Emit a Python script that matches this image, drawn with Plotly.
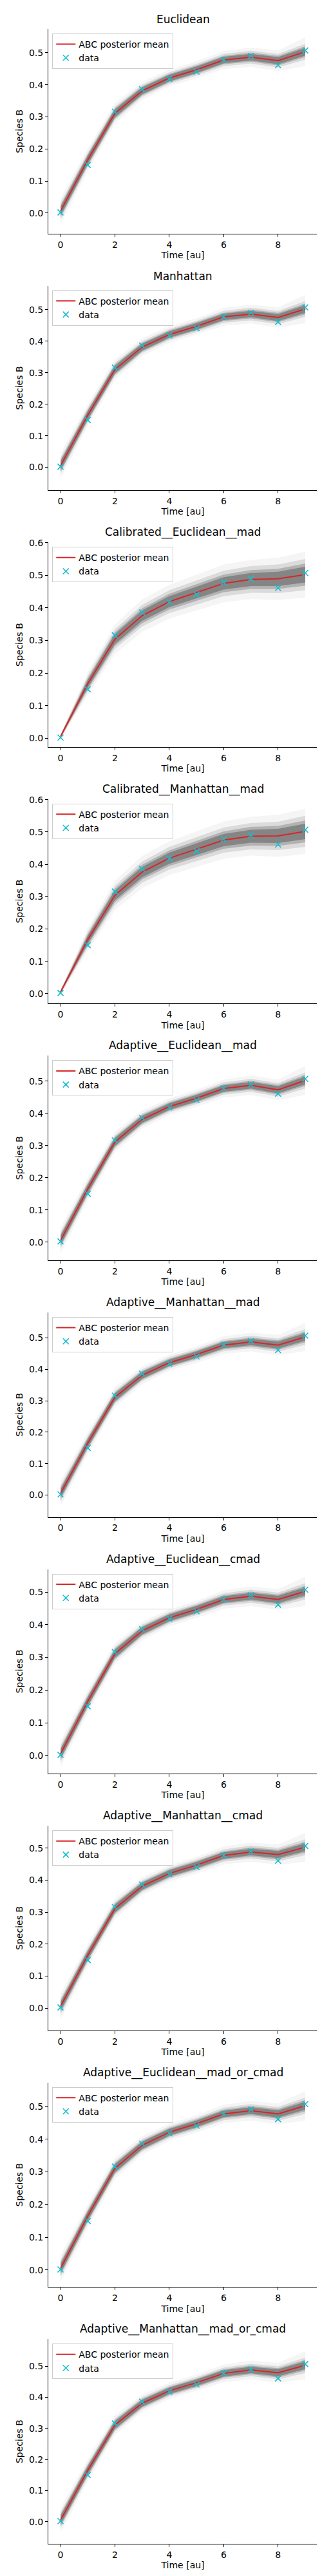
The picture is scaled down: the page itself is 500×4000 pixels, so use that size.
import plotly.graph_objects as go
from plotly.subplots import make_subplots

# time points and observed data (same for every distance)
time_au = [0, 1, 2, 3, 4, 5, 6, 7, 8, 9]
data_b = [0.002, 0.150, 0.316, 0.386, 0.418, 0.441, 0.478, 0.490, 0.461, 0.507]

titles = ["Euclidean", "Manhattan", "Calibrated__Euclidean__mad",
          "Calibrated__Manhattan__mad", "Adaptive__Euclidean__mad",
          "Adaptive__Manhattan__mad", "Adaptive__Euclidean__cmad",
          "Adaptive__Manhattan__cmad", "Adaptive__Euclidean__mad_or_cmad",
          "Adaptive__Manhattan__mad_or_cmad"]

# ABC posterior mean per distance
m_euclidean = [0.006, 0.166, 0.311, 0.381, 0.421, 0.447, 0.477, 0.486, 0.475, 0.503]
m_manhattan = [0.005, 0.165, 0.310, 0.381, 0.421, 0.447, 0.477, 0.486, 0.475, 0.502]
m_cal_euc = [0.005, 0.167, 0.304, 0.376, 0.419, 0.447, 0.475, 0.487, 0.489, 0.502]
m_cal_man = [0.005, 0.167, 0.304, 0.376, 0.419, 0.447, 0.475, 0.487, 0.488, 0.502]
m_ad_euc_mad = [0.005, 0.165, 0.311, 0.381, 0.421, 0.447, 0.477, 0.487, 0.473, 0.502]
m_ad_man_mad = [0.005, 0.165, 0.311, 0.381, 0.421, 0.447, 0.477, 0.487, 0.477, 0.503]
m_ad_euc_cmad = [0.005, 0.165, 0.311, 0.381, 0.421, 0.447, 0.477, 0.487, 0.477, 0.502]
m_ad_man_cmad = [0.005, 0.165, 0.311, 0.381, 0.421, 0.447, 0.477, 0.488, 0.480, 0.503]
m_ad_euc_both = [0.005, 0.165, 0.311, 0.381, 0.421, 0.447, 0.477, 0.487, 0.477, 0.502]
m_ad_man_both = [0.005, 0.165, 0.311, 0.381, 0.421, 0.447, 0.477, 0.488, 0.479, 0.503]

means = [m_euclidean, m_manhattan, m_cal_euc, m_cal_man, m_ad_euc_mad,
         m_ad_man_mad, m_ad_euc_cmad, m_ad_man_cmad, m_ad_euc_both, m_ad_man_both]

# half widths of the grey posterior trajectory cloud (core -> faint edge)
core_std = [0.014, 0.013, 0.012, 0.011, 0.010, 0.010, 0.010, 0.010, 0.011, 0.012]
inner_std = [0.019, 0.017, 0.016, 0.014, 0.013, 0.013, 0.013, 0.014, 0.015, 0.017]
mid_std = [0.026, 0.023, 0.021, 0.019, 0.018, 0.018, 0.019, 0.020, 0.021, 0.025]
outer_std = [0.040, 0.035, 0.032, 0.028, 0.026, 0.026, 0.028, 0.030, 0.032, 0.045]
core_cal = [0.003, 0.012, 0.015, 0.016, 0.017, 0.018, 0.019, 0.020, 0.022, 0.024]
inner_cal = [0.004, 0.017, 0.021, 0.023, 0.024, 0.026, 0.027, 0.029, 0.031, 0.034]
mid_cal = [0.006, 0.024, 0.030, 0.033, 0.035, 0.037, 0.039, 0.041, 0.044, 0.048]
outer_cal = [0.008, 0.035, 0.045, 0.050, 0.052, 0.055, 0.058, 0.060, 0.065, 0.070]
calibrated = [False, False, True, True, False, False, False, False, False, False]

y_ranges = [[-0.064, 0.574], [-0.073, 0.576], [-0.027, 0.601], [-0.031, 0.602],
            [-0.057, 0.579], [-0.070, 0.581], [-0.056, 0.570], [-0.070, 0.570],
            [-0.052, 0.573], [-0.071, 0.587]]

RED = "#d62728"
CYAN = "#17becf"
FONT = "DejaVu Sans"
H = 4000
MT, MB = 37, 58
n = len(titles)
vs = 0.0207

fig = make_subplots(rows=n, cols=1, vertical_spacing=vs)

def band(mean, hw):
    up = [m + w for m, w in zip(mean, hw)]
    lo = [m - w for m, w in zip(mean, hw)]
    return time_au + time_au[::-1], up + lo[::-1]

fills = ["rgba(128,128,128,0.08)", "rgba(128,128,128,0.22)",
         "rgba(128,128,128,0.45)", "rgba(128,128,128,0.90)"]

for i in range(n):
    row = i + 1
    leg = "legend" if i == 0 else "legend" + str(row)
    if calibrated[i]:
        widths = [outer_cal, mid_cal, inner_cal, core_cal]
    else:
        widths = [outer_std, mid_std, inner_std, core_std]
    for hw, fc in zip(widths, fills):
        bx, by = band(means[i], hw)
        fig.add_trace(go.Scatter(x=bx, y=by, fill="toself", fillcolor=fc, mode="lines",
                                 line=dict(width=0), hoverinfo="skip", showlegend=False),
                      row=row, col=1)
    fig.add_trace(go.Scatter(x=time_au, y=means[i], mode="lines", name="ABC posterior mean",
                             line=dict(color=RED, width=2), legend=leg), row=row, col=1)
    fig.add_trace(go.Scatter(x=time_au, y=data_b, mode="markers", name="data",
                             marker=dict(symbol="x-thin", size=9, color=CYAN,
                                         line=dict(width=1.6, color=CYAN)),
                             legend=leg), row=row, col=1)

    fig.update_xaxes(range=[-0.45, 9.45], tickvals=[0, 2, 4, 6, 8], showline=True,
                     linecolor="black", linewidth=1, ticks="outside", ticklen=4,
                     tickwidth=1, tickcolor="black", showgrid=False, zeroline=False,
                     title=dict(text="Time [au]", standoff=4, font=dict(size=14)),
                     row=row, col=1)
    fig.update_yaxes(range=y_ranges[i], dtick=0.1, tickformat=".1f", showline=True,
                     linecolor="black", linewidth=1, ticks="outside", ticklen=4,
                     tickwidth=1, tickcolor="black", showgrid=False, zeroline=False,
                     title=dict(text="Species B", standoff=6, font=dict(size=14)),
                     row=row, col=1)

    ph = (1 - (n - 1) * vs) / n
    top = 1 - i * (ph + vs)
    plot_px = H - MT - MB
    fig.add_annotation(text=titles[i], x=0.5, y=top, xref="paper", yref="paper",
                       xanchor="center", yanchor="bottom", yshift=3, showarrow=False,
                       font=dict(size=17, color="black", family=FONT))
    fig.update_layout({leg: dict(x=0.015, y=top - 7 / plot_px, xanchor="left", yanchor="top",
                                 bgcolor="rgba(255,255,255,0.8)", bordercolor="#cccccc",
                                 borderwidth=1, font=dict(size=14, color="black"),
                                 itemwidth=30, tracegroupgap=0)})

fig.update_layout(width=500, height=H, template="none", plot_bgcolor="white",
                  paper_bgcolor="white", margin=dict(l=67, r=15, t=MT, b=MB),
                  font=dict(family=FONT, size=14, color="black"))

fig.write_html("out.html")
